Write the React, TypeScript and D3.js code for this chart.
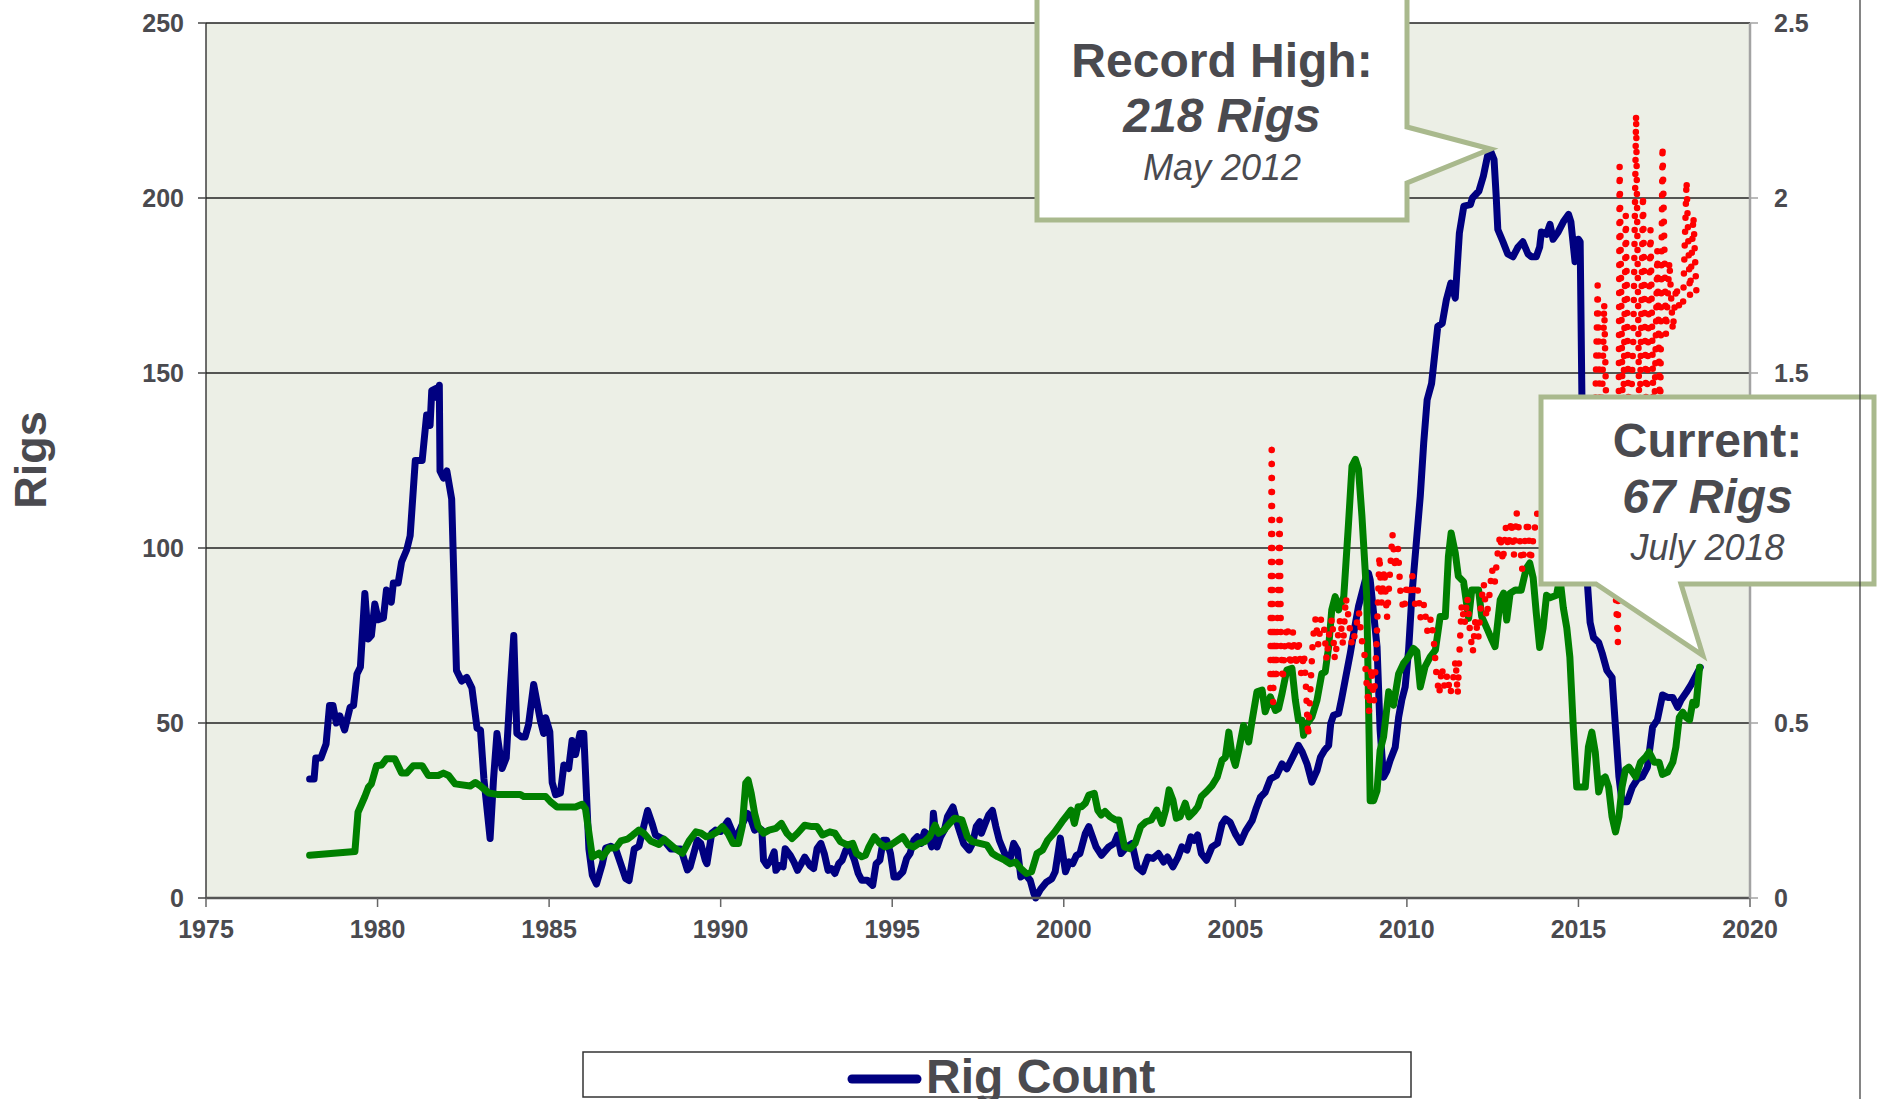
import React from 'react';
import * as d3 from 'd3';

const W = 1877;
const H = 1099;

const xTickValues = [1975, 1980, 1985, 1990, 1995, 2000, 2005, 2010, 2015, 2020];
const leftTickValues = [0, 50, 100, 150, 200, 250];
const rightTickValues = [0, 0.5, 1, 1.5, 2, 2.5];

// Rig count (left axis)
const rigCount: [number, number][] = [
  [1978.02, 34], [1978.15, 34], [1978.2, 40], [1978.35, 40], [1978.5, 44], [1978.6, 55], [1978.7, 55],
  [1978.8, 50], [1978.9, 52], [1979.04, 48], [1979.2, 54.5], [1979.3, 55], [1979.4, 64], [1979.5, 66],
  [1979.63, 87], [1979.73, 74], [1979.82, 75], [1979.92, 84], [1980.02, 79.5], [1980.17, 80], [1980.26, 88],
  [1980.4, 84.5], [1980.46, 90], [1980.6, 90], [1980.7, 96], [1980.85, 99.5], [1980.95, 103.5], [1981.1, 125],
  [1981.3, 125], [1981.43, 138], [1981.53, 135], [1981.58, 145], [1981.68, 145.5], [1981.72, 143],
  [1981.8, 146.5], [1981.82, 122], [1981.92, 120], [1982.02, 122], [1982.16, 114], [1982.3, 65],
  [1982.45, 62], [1982.6, 63], [1982.75, 60], [1982.9, 48.5], [1983.0, 48], [1983.1, 34], [1983.28, 17],
  [1983.38, 34], [1983.48, 47], [1983.63, 37], [1983.75, 40], [1983.87, 60], [1983.97, 75], [1984.06, 47],
  [1984.2, 46], [1984.3, 46], [1984.4, 49.5], [1984.55, 61], [1984.75, 50.5], [1984.84, 47], [1984.9, 51.5],
  [1985.02, 47.5], [1985.09, 33], [1985.19, 29.5], [1985.33, 30], [1985.43, 38], [1985.57, 37], [1985.67, 45],
  [1985.77, 41], [1985.9, 47], [1986.01, 47], [1986.16, 14], [1986.26, 6.5], [1986.38, 4], [1986.55, 9.7],
  [1986.65, 14.3], [1986.8, 14.8], [1986.94, 14], [1987.09, 9.7], [1987.23, 5.6], [1987.33, 5], [1987.48, 14],
  [1987.62, 14.8], [1987.77, 21], [1987.87, 25], [1988.01, 21], [1988.1, 18], [1988.3, 17], [1988.55, 14],
  [1988.84, 14], [1989.03, 8], [1989.11, 8.9], [1989.32, 16.5], [1989.42, 15.6], [1989.55, 10.8], [1989.6, 9.8],
  [1989.74, 18.5], [1989.85, 19.4], [1990.0, 19], [1990.1, 20.4], [1990.21, 22], [1990.36, 18.5], [1990.47, 17.5],
  [1990.6, 20.4], [1990.78, 24.2], [1990.84, 23.7], [1990.99, 19.4], [1991.1, 20], [1991.2, 19.4], [1991.25, 10.8],
  [1991.35, 9.3], [1991.46, 10.8], [1991.56, 13.2], [1991.61, 7.9], [1991.72, 9.3], [1991.82, 8.9], [1991.88, 14.1],
  [1992.03, 12.2], [1992.14, 10.2], [1992.24, 7.9], [1992.35, 9.8], [1992.45, 11.7], [1992.6, 9.3], [1992.71, 8.4],
  [1992.81, 14.1], [1992.92, 15.6], [1993.02, 12.7], [1993.13, 7.9], [1993.23, 8.4], [1993.33, 7], [1993.44, 9.8],
  [1993.54, 10.8], [1993.65, 13.7], [1993.75, 14.6], [1993.9, 10.8], [1994.01, 7], [1994.11, 5.1], [1994.27, 5.1],
  [1994.43, 3.6], [1994.53, 9.8], [1994.64, 10.8], [1994.74, 16.5], [1994.84, 16.5], [1994.95, 12.7], [1995.05, 6],
  [1995.16, 6], [1995.31, 7.5], [1995.42, 11.3], [1995.52, 12.7], [1995.63, 16.5], [1995.73, 17.5], [1995.84, 15.6],
  [1995.94, 18.9], [1996.05, 18], [1996.15, 14.6], [1996.2, 24.2], [1996.31, 14.6], [1996.41, 17.5], [1996.52, 19.4],
  [1996.61, 23.2], [1996.77, 26], [1996.92, 20.4], [1997.08, 15.6], [1997.24, 13.7], [1997.34, 15.6], [1997.45, 20.4],
  [1997.55, 21.8], [1997.6, 18.5], [1997.71, 21.3], [1997.81, 23.7], [1997.92, 25], [1998.02, 20.4], [1998.12, 16.5],
  [1998.28, 12.7], [1998.44, 11.3], [1998.54, 15.6], [1998.65, 13.7], [1998.75, 6], [1998.86, 7], [1999.02, 5.1],
  [1999.13, 1.2], [1999.18, 0], [1999.33, 2.6], [1999.49, 4.5], [1999.65, 5.5], [1999.75, 7.5], [1999.9, 17.1],
  [2000.05, 7.5], [2000.16, 10.3], [2000.26, 9.8], [2000.37, 12.2], [2000.47, 12.7], [2000.63, 18.5], [2000.73, 20.4],
  [2000.94, 14.6], [2001.1, 12.2], [2001.31, 14.6], [2001.47, 15.6], [2001.57, 18], [2001.67, 12.7], [2001.83, 14.6],
  [2001.99, 15.6], [2002.14, 8.9], [2002.3, 7.5], [2002.45, 11.7], [2002.6, 11.3], [2002.76, 12.7], [2002.91, 10.3],
  [2003.02, 11.7], [2003.18, 8.9], [2003.33, 11.7], [2003.44, 14.6], [2003.59, 13.7], [2003.7, 17.5], [2003.8, 16.5],
  [2003.9, 18], [2004.01, 12.7], [2004.16, 10.8], [2004.32, 14.6], [2004.48, 15.6], [2004.61, 21.1], [2004.71, 22.6],
  [2004.85, 21.6], [2005.0, 18.3], [2005.15, 15.9], [2005.3, 19.2], [2005.49, 22.1], [2005.6, 25.4], [2005.73, 28.8],
  [2005.87, 30.2], [2006.02, 34], [2006.2, 35], [2006.36, 38.3], [2006.5, 36.9], [2006.65, 39.8], [2006.84, 43.6],
  [2006.95, 41.7], [2007.09, 38.3], [2007.23, 33.1], [2007.38, 36.4], [2007.48, 40.2], [2007.6, 42.2], [2007.72, 43.6],
  [2007.78, 49.8], [2007.86, 52.2], [2008.01, 52.7], [2008.1, 57], [2008.2, 62.2], [2008.35, 69.9], [2008.5, 78.5],
  [2008.59, 83.3], [2008.79, 90.9], [2008.88, 92.8], [2008.93, 90.9], [2009.03, 81.4], [2009.13, 71.8], [2009.22, 47.9],
  [2009.32, 34.5], [2009.42, 36.4], [2009.51, 39.3], [2009.66, 43.1], [2009.76, 51.7], [2009.85, 56.5], [2009.95, 60.3],
  [2010.05, 70.8], [2010.15, 87.1], [2010.29, 103.3], [2010.39, 114.8], [2010.49, 130], [2010.59, 142.3], [2010.72, 147],
  [2010.9, 163.3], [2011.03, 164.2], [2011.15, 170.9], [2011.28, 175.7], [2011.41, 171.4], [2011.53, 190], [2011.66, 197.7],
  [2011.85, 198.1], [2011.91, 200], [2012.1, 202], [2012.23, 206.3], [2012.35, 212], [2012.44, 213.4], [2012.54, 211],
  [2012.6, 201], [2012.65, 191], [2012.8, 187.5], [2012.94, 184], [2013.09, 183.2], [2013.24, 186], [2013.38, 187.5],
  [2013.53, 184], [2013.63, 183.2], [2013.77, 183.2], [2013.87, 186], [2013.92, 190.3], [2014.07, 189.6], [2014.17, 192.5],
  [2014.26, 188.2], [2014.41, 190.3], [2014.56, 193.2], [2014.71, 195.3], [2014.78, 193.2], [2014.9, 181.8], [2015.0, 188.2],
  [2015.05, 187.5], [2015.1, 144], [2015.15, 98.6], [2015.25, 91.5], [2015.34, 78.7], [2015.44, 74.4], [2015.59, 73],
  [2015.69, 70], [2015.83, 65], [2015.98, 63], [2016.08, 48.8], [2016.18, 34.6], [2016.27, 27.5], [2016.42, 27.5],
  [2016.57, 31.7], [2016.72, 34], [2016.86, 34.6], [2017.01, 37.4], [2017.16, 48.8], [2017.3, 50.9], [2017.45, 58],
  [2017.6, 57.3], [2017.75, 57.3], [2017.89, 54.5], [2017.99, 56.6], [2018.14, 58.7], [2018.28, 60.9], [2018.43, 63.7],
  [2018.55, 65.9],
];

// Green series (left-axis units)
const greenSeries: [number, number][] = [
  [1978.02, 12.2], [1979.34, 13.3], [1979.43, 24.5], [1979.63, 29], [1979.73, 31.6], [1979.82, 32.6], [1979.97, 37.8],
  [1980.12, 38], [1980.26, 39.8], [1980.5, 39.8], [1980.7, 35.7], [1980.85, 35.7], [1981.04, 37.8], [1981.3, 37.8],
  [1981.48, 35], [1981.77, 35], [1981.92, 35.7], [1982.07, 35], [1982.26, 32.6], [1982.7, 32], [1982.85, 33],
  [1983.0, 32], [1983.24, 30], [1983.48, 29.6], [1984.16, 29.6], [1984.26, 29], [1984.9, 29], [1985.04, 27.5],
  [1985.23, 26], [1985.77, 26], [1985.96, 26.8], [1986.06, 25.5], [1986.26, 11.7], [1986.45, 12.8], [1986.55, 11.7],
  [1986.75, 14.3], [1986.94, 14.3], [1987.09, 16.3], [1987.28, 16.8], [1987.43, 17.9], [1987.62, 19.4], [1987.77, 18.4],
  [1987.96, 16.3], [1988.2, 15.3], [1988.35, 16.8], [1988.65, 14.3], [1988.89, 12.8], [1989.08, 16.3], [1989.28, 18.9],
  [1989.43, 18.5], [1989.58, 17.5], [1989.74, 18], [1989.9, 18.9], [1990.05, 20.4], [1990.21, 18.5], [1990.36, 15.6],
  [1990.52, 15.6], [1990.63, 20.4], [1990.73, 32.8], [1990.8, 33.7], [1990.89, 29.9], [1990.99, 24.2], [1991.09, 20.4],
  [1991.25, 18.5], [1991.41, 19.4], [1991.61, 19.9], [1991.77, 21.3], [1991.93, 18.5], [1992.08, 17], [1992.24, 18.5],
  [1992.45, 20.8], [1992.66, 20.4], [1992.81, 20.4], [1992.97, 18], [1993.18, 18.9], [1993.33, 18.5], [1993.49, 16.1],
  [1993.7, 15.1], [1993.85, 15.6], [1993.96, 12.7], [1994.11, 11.8], [1994.22, 12.2], [1994.32, 14.6], [1994.48, 17.5],
  [1994.64, 15.6], [1994.79, 14.6], [1994.95, 15.1], [1995.1, 16.1], [1995.31, 17.5], [1995.47, 15.1], [1995.63, 14.6],
  [1995.78, 15.6], [1995.94, 16.1], [1996.09, 17.5], [1996.25, 20.8], [1996.35, 18.5], [1996.51, 19.4], [1996.67, 21.3],
  [1996.82, 22.8], [1997.03, 22.3], [1997.19, 17.5], [1997.34, 16.1], [1997.55, 15.6], [1997.76, 15.1], [1997.92, 12.7],
  [1998.07, 11.8], [1998.28, 10.8], [1998.44, 9.8], [1998.59, 10.3], [1998.75, 8.4], [1998.91, 7], [1999.06, 7.5],
  [1999.22, 12.7], [1999.38, 13.7], [1999.53, 16.5], [1999.74, 18.9], [1999.95, 21.8], [2000.1, 23.7], [2000.21, 25.1],
  [2000.31, 21.3], [2000.42, 26.1], [2000.52, 26.1], [2000.63, 27.1], [2000.73, 29.4], [2000.89, 29.9], [2000.99, 25.1],
  [2001.09, 23.7], [2001.2, 24.7], [2001.35, 23.2], [2001.51, 22.3], [2001.61, 22.3], [2001.77, 14.6], [2001.93, 14.1],
  [2002.08, 15.6], [2002.24, 20.4], [2002.4, 21.8], [2002.55, 22.3], [2002.71, 25.1], [2002.86, 21.3], [2002.97, 25.1],
  [2003.07, 30.9], [2003.18, 28], [2003.28, 22.8], [2003.39, 23.2], [2003.54, 27.1], [2003.65, 23.2], [2003.8, 24.7],
  [2003.91, 26.1], [2004.01, 29], [2004.17, 30.5], [2004.32, 32.1], [2004.47, 34.5], [2004.61, 39.3], [2004.71, 40.2],
  [2004.81, 47.4], [2004.9, 41.2], [2005.0, 37.9], [2005.1, 42.2], [2005.24, 49.3], [2005.39, 44.6], [2005.49, 50.8],
  [2005.63, 58.9], [2005.78, 59.4], [2005.87, 53.2], [2006.02, 57.5], [2006.17, 53.6], [2006.26, 54.1], [2006.36, 58.4],
  [2006.5, 65.1], [2006.65, 65.6], [2006.75, 56.5], [2006.84, 50.8], [2006.94, 50.8], [2006.99, 46.5], [2007.09, 49.8],
  [2007.23, 51.7], [2007.38, 56.5], [2007.52, 64.1], [2007.62, 64.6], [2007.72, 71.8], [2007.81, 82.3], [2007.91, 86.1],
  [2008.01, 82.3], [2008.16, 86.1], [2008.3, 107.2], [2008.4, 123.4], [2008.5, 125.3], [2008.59, 122.5], [2008.69, 109.1],
  [2008.83, 86.1], [2008.93, 27.8], [2009.03, 27.8], [2009.13, 30.7], [2009.22, 42.2], [2009.32, 46], [2009.47, 58.9],
  [2009.61, 55.1], [2009.76, 64.1], [2009.9, 67], [2010.05, 68.9], [2010.19, 71.3], [2010.29, 70.4], [2010.39, 60.3],
  [2010.53, 66.1], [2010.68, 68.9], [2010.83, 70.8], [2010.97, 80.4], [2011.12, 80.4], [2011.21, 97.6], [2011.29, 104.3],
  [2011.41, 98.6], [2011.5, 91.9], [2011.65, 90.4], [2011.8, 79.9], [2011.89, 88], [2012.09, 88], [2012.18, 80.4],
  [2012.33, 77.1], [2012.48, 73.7], [2012.57, 71.8], [2012.72, 85.2], [2012.82, 87.1], [2012.91, 79.4], [2013.01, 87.1],
  [2013.16, 88], [2013.33, 87.9], [2013.48, 94.2], [2013.58, 95.7], [2013.68, 91.5], [2013.77, 81.5], [2013.87, 71.6],
  [2013.97, 77.2], [2014.07, 86.5], [2014.17, 85.8], [2014.36, 86.5], [2014.46, 91.5], [2014.56, 82.9], [2014.66, 77.2],
  [2014.75, 68.8], [2014.85, 48.8], [2014.95, 31.7], [2015.1, 31.7], [2015.2, 31.7], [2015.29, 43.1], [2015.39, 47.4],
  [2015.49, 41.7], [2015.59, 30.3], [2015.69, 33.9], [2015.78, 34.6], [2015.88, 31.7], [2015.98, 23.2], [2016.08, 18.9],
  [2016.18, 23.2], [2016.27, 31.7], [2016.37, 36.7], [2016.47, 37.4], [2016.57, 36], [2016.67, 34.6], [2016.81, 38.8],
  [2016.96, 40.3], [2017.06, 41.7], [2017.21, 38.8], [2017.35, 38.8], [2017.45, 35.3], [2017.6, 36], [2017.75, 38.8],
  [2017.84, 43.1], [2017.94, 51.6], [2018.04, 53.1], [2018.14, 51.6], [2018.24, 50.9], [2018.33, 55.9], [2018.43, 55.2],
  [2018.53, 65.9],
];

// Red dotted series (right-axis units)
const redSeries: [number, number][] = [
  [2006.02, 0.60], [2006.06, 1.30], [2006.10, 0.56], [2006.14, 0.76], [2006.19, 0.62], [2006.25, 0.90], [2006.29, 1.10],
  [2006.33, 0.72], [2006.38, 0.62], [2006.45, 0.74], [2006.52, 0.78], [2006.6, 0.66], [2006.68, 0.76], [2006.76, 0.66],
  [2006.84, 0.74], [2006.92, 0.64], [2007.0, 0.70], [2007.06, 0.60], [2007.12, 0.46], [2007.18, 0.58], [2007.26, 0.74],
  [2007.34, 0.80], [2007.42, 0.72], [2007.5, 0.80], [2007.58, 0.78], [2007.66, 0.68], [2007.74, 0.76], [2007.82, 0.80],
  [2007.9, 0.68], [2007.98, 0.74], [2008.06, 0.80], [2008.14, 0.72], [2008.22, 0.86], [2008.3, 0.80], [2008.4, 0.72],
  [2008.5, 0.76], [2008.6, 0.82], [2008.68, 0.74], [2008.76, 0.70], [2008.82, 0.62], [2008.9, 0.53], [2008.96, 0.66],
  [2009.04, 0.56], [2009.12, 0.74], [2009.2, 0.98], [2009.26, 0.84], [2009.34, 0.94], [2009.42, 0.80], [2009.5, 0.92],
  [2009.58, 1.04], [2009.66, 0.94], [2009.74, 1.00], [2009.82, 0.86], [2009.92, 0.82], [2010.0, 0.90], [2010.08, 0.86],
  [2010.16, 0.92], [2010.24, 0.84], [2010.32, 0.88], [2010.4, 0.80], [2010.5, 0.84], [2010.6, 0.76], [2010.7, 0.80],
  [2010.78, 0.74], [2010.86, 0.64], [2010.94, 0.58], [2011.02, 0.66], [2011.1, 0.60], [2011.18, 0.64], [2011.26, 0.58],
  [2011.34, 0.62], [2011.42, 0.68], [2011.48, 0.58], [2011.54, 0.72], [2011.6, 0.84], [2011.68, 0.78], [2011.76, 0.86],
  [2011.84, 0.76], [2011.92, 0.70], [2012.0, 0.80], [2012.08, 0.74], [2012.16, 0.84], [2012.24, 0.90], [2012.32, 0.80],
  [2012.4, 0.86], [2012.48, 0.94], [2012.56, 0.90], [2012.64, 0.98], [2012.72, 1.04], [2012.8, 0.96], [2012.88, 1.06],
  [2012.96, 1.00], [2013.04, 1.08], [2013.12, 0.98], [2013.2, 1.10], [2013.28, 1.04], [2013.36, 0.94], [2013.44, 1.02],
  [2013.52, 1.08], [2013.6, 0.96], [2013.7, 1.04], [2013.8, 1.10], [2014.0, 1.12], [2014.3, 1.05], [2014.6, 1.15],
  [2014.9, 1.00], [2015.2, 1.10], [2015.45, 1.20], [2015.56, 1.75], [2015.65, 1.25], [2015.75, 1.70], [2015.85, 1.20],
  [2015.95, 1.40], [2016.05, 0.95], [2016.15, 0.73], [2016.2, 2.09], [2016.3, 1.30], [2016.38, 1.95], [2016.48, 1.25],
  [2016.6, 1.60], [2016.68, 2.24], [2016.78, 1.30], [2016.88, 2.01], [2016.98, 1.35], [2017.1, 1.91], [2017.2, 1.30],
  [2017.3, 1.85], [2017.38, 1.35], [2017.45, 2.15], [2017.55, 1.61], [2017.65, 1.82], [2017.75, 1.62], [2017.85, 1.75],
  [2017.95, 1.68], [2018.05, 1.70], [2018.15, 2.05], [2018.25, 1.72], [2018.35, 1.95], [2018.45, 1.70],
];

const recordHigh = { year: 2012.44, value: 213.4, lines: ['Record High:', '218 Rigs', 'May 2012'] };
const current = { year: 2018.57, value: 67, lines: ['Current:', '67 Rigs', 'July 2018'] };
const legendLabel = 'Rig Count';
const yAxisTitle = 'Rigs';

const FONT = '"Liberation Sans", Arial, Helvetica, sans-serif';
const TEXT = '#4a4a4f';
const SAGE = '#a9b98d';

export default function App() {
  const left = 206, right = 1750, top = 23, bottom = 898;
  const x = d3.scaleLinear().domain([1975, 2020]).range([left, right]);
  const yL = d3.scaleLinear().domain([0, 250]).range([bottom, top]);
  const yR = d3.scaleLinear().domain([0, 2.5]).range([bottom, top]);
  const lineL = d3.line<[number, number]>().x(d => x(d[0])).y(d => yL(d[1]));
  const lineR = d3.line<[number, number]>().x(d => x(d[0])).y(d => yR(d[1]));

  // Callout 1 (pointer on right side)
  const b1 = { l: 1037, t: -20, r: 1407, b: 220, p1: 127, p2: 183 };
  const t1x = x(recordHigh.year), t1y = yL(recordHigh.value) - 2;
  const path1 = `M${b1.l},${b1.t} H${b1.r} V${b1.p1} L${t1x},${t1y} L${b1.r},${b1.p2} V${b1.b} H${b1.l} Z`;
  const c1 = (b1.l + b1.r) / 2;

  // Callout 2 (pointer on bottom)
  const b2 = { l: 1541, t: 397, r: 1874, b: 584, q1: 1596, q2: 1681 };
  const t2x = x(current.year) + 2, t2y = yL(current.value) - 8;
  const path2 = `M${b2.l},${b2.t} H${b2.r} V${b2.b} H${b2.q2} L${t2x},${t2y} L${b2.q1},${b2.b} H${b2.l} Z`;
  const c2 = (b2.l + b2.r) / 2;

  // right-axis labels that sit under the "Current" callout are covered in the reference
  const rightVisible = rightTickValues.filter(v => yR(v) < b2.t - 5 || yR(v) > b2.b + 5);

  return (
    <svg width={W} height={H} style={{ position: 'absolute', left: 0, top: 0, background: '#fff' }}>
      <rect x={0} y={0} width={W} height={H} fill="#fff" />
      <rect x={left} y={top} width={right - left} height={bottom - top} fill="#ECEFE6" />
      {leftTickValues.filter(v => v > 0).map(v => (
        <line key={'g' + v} x1={left} x2={right} y1={yL(v)} y2={yL(v)} stroke="#222" strokeWidth={1.3} />
      ))}
      <line x1={left} x2={left} y1={top} y2={bottom} stroke="#222" strokeWidth={1.3} />

      <path d={lineL(rigCount) || ''} fill="none" stroke="#000080" strokeWidth={7} strokeLinejoin="round" strokeLinecap="round" />
      <path d={lineL(greenSeries) || ''} fill="none" stroke="#008000" strokeWidth={7} strokeLinejoin="round" strokeLinecap="round" />
      <path d={lineR(redSeries) || ''} fill="none" stroke="#ff0000" strokeWidth={6.5} strokeLinecap="round" strokeDasharray="0 14" />

      <line x1={left} x2={right} y1={bottom} y2={bottom} stroke="#555" strokeWidth={2.5} />
      <line x1={right} x2={right} y1={top} y2={bottom + 1} stroke="#a3a3a3" strokeWidth={2.5} />

      {xTickValues.map(v => (
        <g key={'x' + v}>
          <line x1={x(v)} x2={x(v)} y1={bottom} y2={bottom + 9} stroke="#666" strokeWidth={1.5} />
          <text x={x(v)} y={938} textAnchor="middle" fontFamily={FONT} fontWeight="bold" fontSize={25} fill={TEXT}>{v}</text>
        </g>
      ))}
      {leftTickValues.map(v => (
        <g key={'l' + v}>
          <line x1={left - 8} x2={left} y1={yL(v)} y2={yL(v)} stroke="#444" strokeWidth={1.5} />
          <text x={184} y={yL(v) + 9} textAnchor="end" fontFamily={FONT} fontWeight="bold" fontSize={25} fill={TEXT}>{v}</text>
        </g>
      ))}
      {rightVisible.map(v => (
        <g key={'r' + v}>
          <line x1={right} x2={right + 8} y1={yR(v)} y2={yR(v)} stroke="#a3a3a3" strokeWidth={1.5} />
          <text x={1774} y={yR(v) + 9} textAnchor="start" fontFamily={FONT} fontWeight="bold" fontSize={25} fill={TEXT}>{String(v)}</text>
        </g>
      ))}

      <text transform="translate(46,460) rotate(-90)" textAnchor="middle" fontFamily={FONT} fontWeight="bold" fontSize={45} fill={TEXT}>{yAxisTitle}</text>

      <path d={path1} fill="#fff" stroke={SAGE} strokeWidth={5} />
      <text x={c1} y={77} textAnchor="middle" fontFamily={FONT} fontWeight="bold" fontSize={48} fill={TEXT}>{recordHigh.lines[0]}</text>
      <text x={c1} y={132} textAnchor="middle" fontFamily={FONT} fontWeight="bold" fontStyle="italic" fontSize={48} fill={TEXT}>{recordHigh.lines[1]}</text>
      <text x={c1} y={180} textAnchor="middle" fontFamily={FONT} fontStyle="italic" fontSize={36} fill={TEXT}>{recordHigh.lines[2]}</text>

      <path d={path2} fill="#fff" stroke={SAGE} strokeWidth={5} />
      <text x={c2} y={457} textAnchor="middle" fontFamily={FONT} fontWeight="bold" fontSize={48} fill={TEXT}>{current.lines[0]}</text>
      <text x={c2} y={513} textAnchor="middle" fontFamily={FONT} fontWeight="bold" fontStyle="italic" fontSize={48} fill={TEXT}>{current.lines[1]}</text>
      <text x={c2} y={560} textAnchor="middle" fontFamily={FONT} fontStyle="italic" fontSize={36} fill={TEXT}>{current.lines[2]}</text>

      <rect x={583} y={1052} width={828} height={45} fill="#fff" stroke="#333" strokeWidth={1.5} />
      <line x1={852} x2={917} y1={1079} y2={1079} stroke="#000080" strokeWidth={9} strokeLinecap="round" />
      <text x={926} y={1093} fontFamily={FONT} fontWeight="bold" fontSize={48} fill={TEXT}>{legendLabel}</text>

      <line x1={1860} x2={1860} y1={0} y2={H} stroke="#333" strokeWidth={1.2} />
    </svg>
  );
}
